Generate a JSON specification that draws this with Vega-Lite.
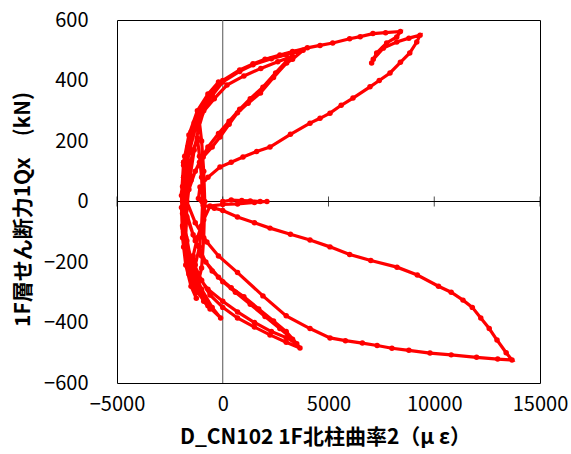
{
"$schema": "https://vega.github.io/schema/vega-lite/v6.json",
"width": 423, "height": 363,
"autosize": "none",
"padding": {"left": 117, "top": 20, "right": 31, "bottom": 71},
"background": "white",
"config": {"view": {"stroke": "#000", "strokeWidth": 1},
 "font": "Noto Sans CJK JP",
 "axisX": {"grid": false, "domain": false, "ticks": false, "tickSize": 0, "labelPadding": 11, "labelFontSize": 20, "labelColor": "#000", "labelFlush": false, "labelOverlap": false, "titleFontSize": 21, "titleFontWeight": "bold", "titleColor": "#000", "titleX": 208, "titleY": 54, "titleBaseline": "middle", "titleAlign": "center"},
 "axisY": {"grid": false, "domain": false, "ticks": false, "tickSize": 0, "labelPadding": 29, "labelFontSize": 20, "labelColor": "#000", "labelFlush": false, "labelOverlap": false, "titleFontSize": 21, "titleFontWeight": "bold", "titleColor": "#000", "titleX": -94, "titleY": 189, "titleBaseline": "middle", "titleAlign": "center", "titleAngle": -90}
},
"data": {"values": [
{"x":0,"y":0},{"x":400,"y":5},{"x":900,"y":3},{"x":1300,"y":2},{"x":1770,"y":0},{"x":2090,"y":0},{"x":1500,"y":-3},{"x":700,"y":-8},{"x":0,"y":-10},{"x":-600,"y":-15},
{"x":-900,"y":-60},{"x":-1200,"y":-120},{"x":-1400,"y":-180},{"x":-1300,"y":-210},{"x":-1100,"y":-150},{"x":-1000,"y":-80},{"x":-950,"y":0},{"x":-1000,"y":80},{"x":-1100,"y":150},{"x":-1200,"y":210},{"x":-1400,"y":170},{"x":-1600,"y":100},{"x":-1750,"y":20},{"x":-1800,"y":-60},{"x":-1750,"y":-140},{"x":-1600,"y":-220},
{"x":-1400,"y":-260},{"x":-1200,"y":-280},{"x":-1000,"y":-220},{"x":-900,"y":-120},{"x":-850,"y":0},{"x":-900,"y":100},{"x":-1000,"y":200},{"x":-1150,"y":290},{"x":-1400,"y":240},{"x":-1650,"y":170},{"x":-1850,"y":80},{"x":-1950,"y":-20},{"x":-1900,"y":-120},{"x":-1750,"y":-210},{"x":-1500,"y":-280},{"x":-1250,"y":-320},
{"x":-1500,"y":-250},{"x":-1750,"y":-170},{"x":-1900,"y":-80},{"x":-1950,"y":20},{"x":-1850,"y":130},{"x":-1600,"y":220},{"x":-1200,"y":300},{"x":-700,"y":355},{"x":-200,"y":395},{"x":-500,"y":360},{"x":-900,"y":310},{"x":-1300,"y":240},{"x":-1600,"y":160},{"x":-1800,"y":60},{"x":-1900,"y":-40},{"x":-1850,"y":-150},{"x":-1600,"y":-240},{"x":-1200,"y":-300},{"x":-700,"y":-345},{"x":-100,"y":-385},{"x":-500,"y":-350},{"x":-1000,"y":-290},{"x":-1400,"y":-220},{"x":-1700,"y":-130},{"x":-1900,"y":-20},
{"x":-1850,"y":80},{"x":-1650,"y":180},{"x":-1350,"y":260},{"x":-1000,"y":310},{"x":-700,"y":340},{"x":-900,"y":300},{"x":-1150,"y":240},{"x":-1350,"y":170},{"x":-1550,"y":80},{"x":-1700,"y":-20},{"x":-1750,"y":-120},{"x":-1600,"y":-210},{"x":-1300,"y":-280},{"x":-900,"y":-330},{"x":-600,"y":-355},{"x":-900,"y":-320},{"x":-1250,"y":-260},{"x":-1550,"y":-180},{"x":-1800,"y":-80},{"x":-1900,"y":0},
{"x":-1850,"y":120},{"x":-1500,"y":220},{"x":-1000,"y":300},{"x":-500,"y":350},{"x":0,"y":395},{"x":800,"y":430},{"x":1430,"y":452},{"x":2300,"y":472},{"x":3000,"y":485},{"x":3500,"y":495},{"x":3800,"y":500},
{"x":3300,"y":470},{"x":3022,"y":458},{"x":2400,"y":410},{"x":1784,"y":359},{"x":1200,"y":325},{"x":696,"y":293},{"x":300,"y":255},{"x":-130,"y":213},{"x":-500,"y":180},{"x":-924,"y":147},{"x":-1300,"y":100},{"x":-1600,"y":40},{"x":-1800,"y":-40},
{"x":-1880,"y":-88},{"x":-1700,"y":-160},{"x":-1407,"y":-200},{"x":-1000,"y":-260},{"x":-603,"y":-309},{"x":0,"y":-350},{"x":696,"y":-385},{"x":1500,"y":-415},{"x":2234,"y":-441},{"x":3000,"y":-465},{"x":3652,"y":-484},
{"x":3300,"y":-455},{"x":2700,"y":-420},{"x":2000,"y":-380},{"x":1300,"y":-340},{"x":600,"y":-300},{"x":0,"y":-265},{"x":-500,"y":-230},{"x":-1000,"y":-180},{"x":-1400,"y":-110},{"x":-1750,"y":-30},{"x":-1900,"y":50},
{"x":-1800,"y":150},{"x":-1450,"y":230},{"x":-1000,"y":290},{"x":-400,"y":340},{"x":200,"y":385},{"x":1000,"y":415},{"x":1800,"y":440},{"x":2600,"y":462},{"x":3300,"y":480},
{"x":3100,"y":470},{"x":2500,"y":425},{"x":1900,"y":378},{"x":1300,"y":340},{"x":800,"y":305},{"x":300,"y":265},{"x":-200,"y":225},{"x":-700,"y":180},{"x":-1100,"y":130},{"x":-1500,"y":70},{"x":-1750,"y":0},
{"x":-1850,"y":-100},{"x":-1600,"y":-190},{"x":-1200,"y":-245},{"x":-700,"y":-290},{"x":0,"y":-330},{"x":700,"y":-365},{"x":1500,"y":-400},{"x":2300,"y":-430},{"x":3000,"y":-450},{"x":3500,"y":-470},
{"x":3000,"y":-430},{"x":2400,"y":-395},{"x":1700,"y":-355},{"x":1000,"y":-315},{"x":400,"y":-285},{"x":-200,"y":-250},{"x":-800,"y":-200},{"x":-1300,"y":-130},{"x":-1700,"y":-50},{"x":-1900,"y":30},
{"x":-1850,"y":130},{"x":-1500,"y":230},{"x":-1000,"y":305},{"x":-500,"y":355},{"x":0,"y":400},{"x":800,"y":435},{"x":1430,"y":455},{"x":2000,"y":470},{"x":2700,"y":484},{"x":3300,"y":496},{"x":4000,"y":508},{"x":4600,"y":516},{"x":5200,"y":524},{"x":6000,"y":538},{"x":6500,"y":545},{"x":7100,"y":555},{"x":7700,"y":558},{"x":8400,"y":562},
{"x":8227,"y":544},{"x":7750,"y":524},{"x":7277,"y":491},{"x":7040,"y":458},{"x":7116,"y":470},{"x":7590,"y":507},{"x":8227,"y":527},{"x":8800,"y":540},{"x":9330,"y":550},
{"x":9173,"y":527},{"x":8842,"y":491},{"x":8400,"y":460},{"x":7908,"y":425},{"x":7400,"y":400},{"x":6962,"y":379},{"x":6158,"y":342},{"x":5600,"y":318},{"x":5071,"y":292},{"x":4600,"y":275},{"x":4125,"y":259},{"x":3200,"y":222},{"x":2234,"y":180},{"x":1600,"y":165},{"x":958,"y":147},{"x":400,"y":130},{"x":-130,"y":114},{"x":-700,"y":80},{"x":-1076,"y":48},{"x":-1150,"y":10},
{"x":-924,"y":-12},{"x":-400,"y":-22},{"x":0,"y":-30},{"x":696,"y":-51},{"x":1500,"y":-70},{"x":2234,"y":-88},{"x":3200,"y":-108},{"x":4125,"y":-127},{"x":5071,"y":-150},{"x":6000,"y":-175},{"x":7000,"y":-195},{"x":8239,"y":-217},{"x":9200,"y":-243},{"x":10200,"y":-280},{"x":10800,"y":-300},{"x":11359,"y":-326},{"x":11800,"y":-350},{"x":12200,"y":-385},{"x":12600,"y":-420},{"x":12967,"y":-458},{"x":13400,"y":-500},{"x":13676,"y":-524},
{"x":13000,"y":-521},{"x":12000,"y":-515},{"x":10800,"y":-507},{"x":9800,"y":-501},{"x":8800,"y":-492},{"x":8000,"y":-485},{"x":7300,"y":-476},{"x":6600,"y":-468},{"x":5800,"y":-460},{"x":5071,"y":-451},{"x":4125,"y":-420},{"x":3000,"y":-378},{"x":1900,"y":-312},{"x":700,"y":-235},{"x":-200,"y":-180},{"x":-750,"y":-134},{"x":-1300,"y":-70},{"x":-1700,"y":0}
]},
"layer": [
 {"data": {"values": [{"x": 0}]},
  "mark": {"type": "rule", "color": "#555", "strokeWidth": 1},
  "encoding": {"x": {"field": "x", "type": "quantitative", "scale": {"domain": [-5000, 15000], "nice": false, "zero": false}, "title": "D_CN102 1F北柱曲率2（μ ε）", "axis": {"values": [-5000, 0, 5000, 10000, 15000], "format": "d"}}}},
 {"data": {"values": [{"y": 0}]},
  "mark": {"type": "rule", "color": "#000", "strokeWidth": 1},
  "encoding": {"y": {"field": "y", "type": "quantitative", "scale": {"domain": [-600, 600], "nice": false}, "title": "1F層せん断力1Qx　(kN)", "axis": {"values": [-600, -400, -200, 0, 200, 400, 600], "format": "d"}}}},
 {"data": {"values": [{"x": -5000, "y": 0}, {"x": 0, "y": 0}, {"x": 5000, "y": 0}, {"x": 10000, "y": 0}, {"x": 15000, "y": 0}]},
  "mark": {"type": "tick", "orient": "vertical", "color": "#000", "size": 10, "thickness": 1},
  "encoding": {"x": {"field": "x", "type": "quantitative", "title": "D_CN102 1F北柱曲率2（μ ε）", "axis": {"values": [-5000, 0, 5000, 10000, 15000], "format": "d"}}, "y": {"field": "y", "type": "quantitative", "title": "1F層せん断力1Qx　(kN)", "axis": {"values": [-600, -400, -200, 0, 200, 400, 600], "format": "d"}}}},
 {"mark": {"type": "line", "color": "#ff0000", "strokeWidth": 3.2},
  "encoding": {"x": {"field": "x", "type": "quantitative", "title": "D_CN102 1F北柱曲率2（μ ε）", "axis": {"values": [-5000, 0, 5000, 10000, 15000], "format": "d"}}, "y": {"field": "y", "type": "quantitative", "title": "1F層せん断力1Qx　(kN)", "axis": {"values": [-600, -400, -200, 0, 200, 400, 600], "format": "d"}}, "order": {"value": null}}},
 {"mark": {"type": "point", "filled": true, "color": "#ff0000", "size": 30, "opacity": 1},
  "encoding": {"x": {"field": "x", "type": "quantitative", "title": "D_CN102 1F北柱曲率2（μ ε）", "axis": {"values": [-5000, 0, 5000, 10000, 15000], "format": "d"}}, "y": {"field": "y", "type": "quantitative", "title": "1F層せん断力1Qx　(kN)", "axis": {"values": [-600, -400, -200, 0, 200, 400, 600], "format": "d"}}}}
]
}
